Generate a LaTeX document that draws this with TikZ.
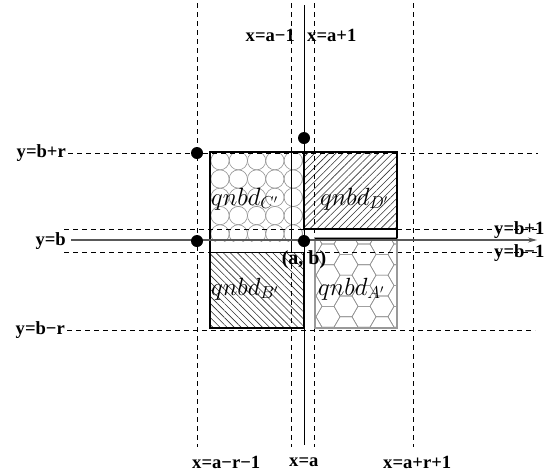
\documentclass[tikz,border=0pt]{standalone}
\usepackage{fontspec}
\setmainfont{Liberation Serif}
\usetikzlibrary{patterns,patterns.meta,arrows.meta}
\begin{document}
\begin{tikzpicture}[x=1pt,y=-1pt,
  dashln/.style={draw=black, line width=0.9pt, dash pattern=on 5pt off 4pt},
  lbl/.style={font=\fontsize{18.6}{20}\selectfont\bfseries, inner sep=0pt},
  qlbl/.style={font=\fontsize{24}{28}\selectfont, inner sep=0pt},
  thickb/.style={line width=2.4pt},
  thinb/.style={line width=0.8pt},
  dotnode/.style={circle, fill=black, minimum size=12pt, inner sep=0pt},
  hexln/.style={draw=gray!85, line width=0.6pt},
  circln/.style={draw=gray!85, line width=0.6pt}
]
\useasboundingbox (0,0) rectangle (553,475);

% ---- fills / patterns ----
% C' circles
\begin{scope}
  \clip (210,152) rectangle (304,241);
  \foreach \i in {0,...,5}
    \foreach \j in {0,...,5}
      \draw[circln] ({220+18.3*\i},{160.7+18.3*\j}) circle[radius=9.15];
\end{scope}
% A' hexagons
\begin{scope}
  \clip (315,238) rectangle (397,328);
  \foreach \i in {0,...,6}
    \foreach \j in {-1,...,6} {
      \pgfmathsetmacro\cx{310+18*\i}
      \pgfmathsetmacro\cy{244+20.78*\j+mod(\i,2)*10.39}
      \draw[hexln] ({\cx-12},\cy) -- ({\cx-6},{\cy-10.39}) -- ({\cx+6},{\cy-10.39})
        -- ({\cx+12},\cy) -- ({\cx+6},{\cy+10.39}) -- ({\cx-6},{\cy+10.39}) -- cycle;
    }
\end{scope}
% D' and B' hatching
\fill[pattern={Lines[angle=45,distance=5pt,line width=0.6pt]}, pattern color=black!80] (304,152) rectangle (397,229);
\fill[pattern={Lines[angle=-45,distance=5pt,line width=0.6pt]}, pattern color=black!80] (210,252) rectangle (304,328);

% ---- coordinates of guide lines ----
\coordinate (va1t) at (197,3);   \coordinate (va1b) at (197,447);
\coordinate (va2t) at (291,3);   \coordinate (va2b) at (291,447);
\coordinate (va4t) at (314,3);   \coordinate (va4b) at (314,447);
\coordinate (va5t) at (413,3);   \coordinate (va5b) at (413,447);
\coordinate (vat)  at (304,5);   \coordinate (vab)  at (304,445);
\coordinate (hbrl) at (68,153);  \coordinate (hbrr) at (538,153);
\coordinate (hb1l) at (64,229);  \coordinate (hb1r) at (540,229);
\coordinate (hbm1l) at (64,252); \coordinate (hbm1r) at (540,252);
\coordinate (hbmrl) at (67,330); \coordinate (hbmrr) at (535,330);
\coordinate (ybl) at (71,240);   \coordinate (ybr) at (537,240);

% dashed guides
\draw[dashln] (va1t) -- (va1b);
\draw[dashln] (va2t) -- (va2b);
\draw[dashln] (va4t) -- (va4b);
\draw[dashln] (va5t) -- (va5b);
\draw[dashln] (hbrl) -- (hbrr);
\draw[dashln] (hb1l) -- (hb1r);
\draw[dashln] (hbm1l) -- (hbm1r);
\draw[dashln] (hbmrl) -- (hbmrr);

% ---- region borders ----
\draw[gray!80, line width=1.4pt] (315,238) rectangle (397,328);
\draw[thinb] (315,238) -- (397,238);
\draw[thickb] (210,328) -- (210,152) -- (397,152) -- (397,238);
\draw[thickb] (304,152) rectangle (397,229);
\draw[thickb] (210,252) -- (210,328) -- (304,328) -- (304,252);
\draw[thinb] (210,252) -- (304,252);
\draw[thinb] (291,152) -- (291,252);

% ---- axes ----
\draw[gray!70!black, line width=1.1pt, -{Stealth[length=9pt,width=5pt]}] (ybl) -- (ybr);
\draw[black, line width=1pt] (vat) -- (vab);

% ---- dots ----
\node[dotnode] (d1) at (197,153) {};
\node[dotnode] (d2) at (304,138) {};
\node[dotnode] (d3) at (197,241) {};
\node[dotnode] (d4) at (304,241) {};

% ---- labels ----
\node[qlbl, anchor=base west] (qc) at (211,205) {$qnbd_{C'}$};
\node[qlbl, anchor=base west] (qd) at (320,205) {$qnbd_{D'}$};
\node[qlbl, anchor=base west] (qb) at (211,295) {$qnbd_{B'}$};
\node[qlbl, anchor=base west] (qa) at (318,295) {$qnbd_{A'}$};

\node[lbl, font=\fontsize{20}{22}\selectfont\bfseries] (ab) at (304,260) {(a, b)};

\node[lbl, anchor=east] (lbr) at (66,153) {y=b+r};
\node[lbl, anchor=east] (lb)  at (66,241) {y=b};
\node[lbl, anchor=east] (lbmr) at (65,330) {y=b−r};
\node[lbl, anchor=west] (lb1) at (494,230) {y=b+1};
\node[lbl, anchor=west] (lbm1) at (494,253) {y=b−1};

\node[lbl, anchor=east] (lam1) at (295,35) {x=a−1};
\node[lbl, anchor=west] (lap1) at (307,35) {x=a+1};

\node[lbl, anchor=west] (lamr) at (192,462) {x=a−r−1};
\node[lbl, anchor=west] (la)   at (289,462) {x=a};
\node[lbl, anchor=west] (lapr) at (383,462) {x=a+r+1};
\end{tikzpicture}
\end{document}
